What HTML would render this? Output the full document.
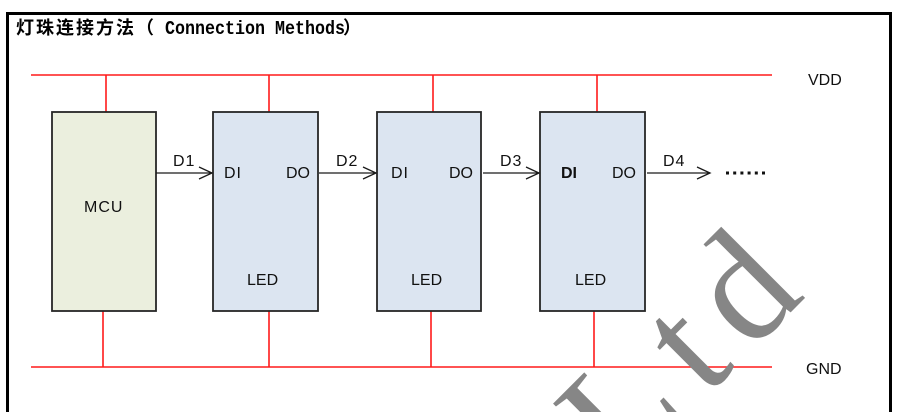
<!DOCTYPE html>
<html>
<head>
<meta charset="utf-8">
<style>
  html,body{margin:0;padding:0;background:#fff;}
  body{width:907px;height:412px;overflow:hidden;position:relative;}
  svg{position:absolute;left:0;top:0;}
  .lbl{font-family:"Liberation Sans",sans-serif;font-size:16px;fill:#111;}
</style>
</head>
<body>
<svg width="907" height="412" viewBox="0 0 907 412" xmlns="http://www.w3.org/2000/svg">
  <!-- outer frame -->
  <rect x="7.5" y="13.5" width="883" height="420" fill="none" stroke="#000" stroke-width="3"/>

  <!-- title -->
  <text x="16" y="34" font-family="'Noto Sans CJK SC', sans-serif" font-size="18" font-weight="bold" letter-spacing="2" fill="#000">灯珠连接方法（</text>
  <text x="165" y="34" font-family="'Liberation Mono', monospace" font-size="19" font-weight="bold" textLength="180" lengthAdjust="spacingAndGlyphs" fill="#000">Connection Methods</text>
  <text x="343" y="34" font-family="'Noto Sans CJK SC', sans-serif" font-size="18" font-weight="bold" fill="#000">）</text>

  <!-- power rails -->
  <g stroke="#ff1a1a" stroke-width="1.6" fill="none">
    <line x1="31" y1="75" x2="772" y2="75"/>
    <line x1="31" y1="367" x2="772" y2="367"/>
    <line x1="106" y1="75" x2="106" y2="112"/>
    <line x1="269" y1="75" x2="269" y2="112"/>
    <line x1="433" y1="75" x2="433" y2="112"/>
    <line x1="597" y1="75" x2="597" y2="112"/>
    <line x1="103" y1="311" x2="103" y2="367"/>
    <line x1="269" y1="311" x2="269" y2="367"/>
    <line x1="431" y1="311" x2="431" y2="367"/>
    <line x1="594" y1="311" x2="594" y2="367"/>
  </g>

  <!-- watermark -->
  <text x="623" y="480" transform="rotate(-45 623 480)" font-family="'Liberation Serif', serif" font-size="158" letter-spacing="20" fill="#868686">Ltd</text>

  <!-- boxes -->
  <g stroke="#262626" stroke-width="1.8">
    <rect x="52" y="112" width="104" height="199" fill="#EBEFDE"/>
    <rect x="213" y="112" width="105" height="199" fill="#DCE5F1"/>
    <rect x="377" y="112" width="104" height="199" fill="#DCE5F1"/>
    <rect x="540" y="112" width="105" height="199" fill="#DCE5F1"/>
  </g>

  <!-- arrows -->
  <g stroke="#1a1a1a" stroke-width="1.3" fill="none">
    <line x1="156" y1="173" x2="212" y2="173"/>
    <polyline points="199,167 212,173 199,179"/>
    <line x1="319" y1="173" x2="376" y2="173"/>
    <polyline points="363,167 376,173 363,179"/>
    <line x1="483" y1="173" x2="539" y2="173"/>
    <polyline points="526,167 539,173 526,179"/>
    <line x1="647" y1="173" x2="710" y2="173"/>
    <polyline points="697,167 710,173 697,179"/>
  </g>

  <!-- dots -->
  <g fill="#111">
    <rect x="726" y="171.5" width="3" height="3"/>
    <rect x="733.2" y="171.5" width="3" height="3"/>
    <rect x="740.4" y="171.5" width="3" height="3"/>
    <rect x="747.6" y="171.5" width="3" height="3"/>
    <rect x="754.8" y="171.5" width="3" height="3"/>
    <rect x="762" y="171.5" width="3" height="3"/>
  </g>

  <!-- labels -->
  <text class="lbl" x="808" y="85" font-size="17">VDD</text>
  <text class="lbl" x="806" y="374" font-size="17">GND</text>

  <text class="lbl" x="84" y="212" font-size="16.5" letter-spacing="1">MCU</text>

  <text class="lbl" x="173" y="166" letter-spacing="1">D1</text>
  <text class="lbl" x="336" y="166" letter-spacing="1">D2</text>
  <text class="lbl" x="500" y="166" letter-spacing="1">D3</text>
  <text class="lbl" x="663" y="166" letter-spacing="1">D4</text>

  <text class="lbl" x="224" y="178" letter-spacing="1">DI</text>
  <text class="lbl" x="286" y="178">DO</text>
  <text class="lbl" x="391" y="178" letter-spacing="1">DI</text>
  <text class="lbl" x="449" y="178">DO</text>
  <text class="lbl" x="561" y="178" font-weight="bold">DI</text>
  <text class="lbl" x="612" y="178">DO</text>

  <text class="lbl" x="247" y="285">LED</text>
  <text class="lbl" x="411" y="285">LED</text>
  <text class="lbl" x="575" y="285">LED</text>
</svg>
</body>
</html>
